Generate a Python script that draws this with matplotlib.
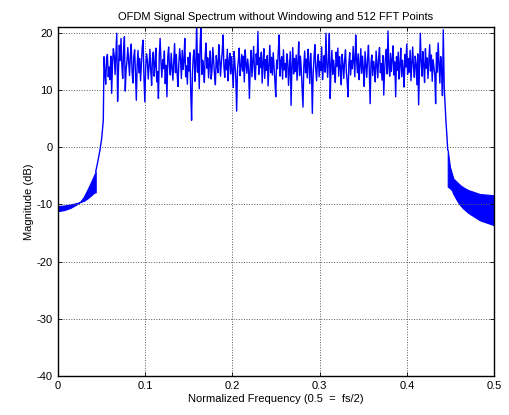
# OFDM spectrum without windowing - MATLAB style plot
import numpy as np
import matplotlib
matplotlib.use("Agg")
import matplotlib.pyplot as plt

plt.rcParams['font.family'] = ['Liberation Sans', 'DejaVu Sans']

# in-band magnitudes (dB)
f_band_start = 0.0532
f_band_stop = 0.4414
band_db = [
    15.8, 13.1, 11.0, 15.4, 16.2, 12.3, 14.0, 11.8, 15.9, 9.4, 14.6, 17.2, 16.0, 12.7, 16.5, 19.9, 8.0, 13.4, 17.8, 15.1,
    19.0, 14.2, 12.0, 16.7, 19.3, 9.8, 13.6, 15.0, 17.4, 14.8, 12.5, 16.1, 18.0, 13.3, 11.2, 15.7, 17.0, 12.9, 8.2, 14.4,
    16.9, 13.0, 15.5, 11.6, 14.7, 17.6, 18.7, 12.1, 7.9, 13.8, 16.3, 15.2, 11.9, 14.1, 17.1, 13.5, 10.8, 15.6, 16.6, 12.4,
    14.5, 17.3, 11.4, 13.2, 8.5, 16.0, 19.0, 14.9, 12.2, 15.3, 13.7, 16.8, 11.1, 14.3, 8.8, 15.8, 17.5, 13.9, 12.6, 16.4,
    14.0, 11.7, 15.1, 18.1, 13.0, 16.2, 12.8, 10.6, 14.6, 17.2, 15.4, 12.0, 16.9, 13.6, 15.0, 19.0, 12.3, 14.2, 11.0, 15.7,
    13.3, 16.5, 9.6, 4.7, 12.9, 15.9, 17.0, 11.5, 14.4, 21.5, 13.1, 16.3, 10.2, 17.7, 21.5, 12.7, 15.2, 14.0, 11.3, 16.1,
    18.2, 13.8, 15.6, 12.1, 14.7, 16.8, 11.9, 13.4, 17.4, 15.0, 12.6, 10.9, 16.0, 14.3, 13.0, 17.9, 15.5, 12.4, 14.8, 16.6,
    19.6, 14.1, 12.2, 15.3, 13.5, 17.1, 11.6, 14.9, 16.4, 12.8, 15.8, 13.2, 10.4, 16.7, 14.5, 12.0, 6.3, 13.7, 15.1, 17.3,
    12.5, 14.0, 16.2, 13.3, 15.9, 11.4, 17.0, 14.6, 12.9, 15.4, 13.6, 8.5, 14.2, 16.9, 12.3, 15.0, 17.6, 13.1, 11.8, 16.3,
    14.4, 20.2, 12.7, 15.6, 13.9, 16.6, 11.2, 14.8, 17.2, 12.0, 15.3, 13.4, 16.0, 10.7, 14.3, 17.8, 13.0, 15.7, 12.6, 16.5,
    14.1, 11.5, 8.8, 15.2, 13.7, 16.9, 19.6, 12.4, 14.9, 15.8, 11.9, 17.0, 13.5, 14.6, 12.2, 16.3, 15.1, 10.8, 13.8, 16.7,
    7.3, 14.0, 17.4, 12.8, 15.5, 13.2, 16.1, 11.7, 14.7, 18.4, 12.5, 15.9, 13.6, 10.3, 7.0, 14.2, 16.8, 13.0, 15.4, 12.1,
    17.1, 14.5, 11.1, 16.4, 13.3, 5.9, 12.9, 15.7, 17.9, 13.8, 11.6, 14.8, 16.2, 12.3, 15.0, 13.4, 17.5, 11.8, 14.3, 16.0,
    13.1, 19.9, 14.6, 12.2, 15.6, 19.9, 8.5, 14.0, 16.9, 12.7, 15.2, 13.5, 11.3, 16.6, 14.1, 17.3, 12.4, 15.8, 13.9, 10.9,
    16.2, 14.4, 12.0, 15.3, 17.0, 13.2, 11.5, 8.8, 14.7, 16.5, 12.6, 15.1, 13.7, 17.6, 14.9, 12.3, 19.6, 15.5, 13.0, 16.3,
    11.8, 14.2, 17.2, 12.9, 15.9, 13.6, 10.6, 16.7, 14.5, 12.2, 15.4, 17.8, 13.3, 7.6, 14.8, 16.1, 12.5, 15.0, 13.8, 11.4,
    16.8, 14.3, 12.1, 15.7, 17.4, 13.0, 14.6, 11.7, 16.0, 9.1, 13.5, 15.6, 17.1, 12.8, 20.3, 14.1, 12.4, 16.4, 13.2, 15.3,
    17.7, 12.6, 14.9, 8.8, 15.8, 13.4, 16.6, 11.9, 14.4, 17.3, 12.3, 15.2, 13.7, 10.5, 16.2, 14.0, 18.0, 12.7, 15.5, 13.1,
    16.9, 11.6, 14.7, 17.5, 13.9, 12.2, 15.9, 14.5, 10.9, 16.3, 7.4, 13.6, 19.9, 15.0, 12.4, 16.7, 14.2, 11.3, 17.2, 13.8,
    15.6, 12.0, 14.8, 17.9, 13.3, 16.1, 11.5, 15.3, 14.0, 12.7, 7.6, 16.5, 13.1, 18.2, 14.6, 11.2, 15.8, 13.5, 9.0, 20.5,
]

# left skirt (dense ripple shown as a band between envelopes)
left_f = [0, 0.008, 0.015, 0.021, 0.0257, 0.030, 0.034, 0.038, 0.0415, 0.0437]
left_upper = [-10.3, -10.2, -10.0, -9.8, -9.6, -8.7, -7.5, -6.2, -5.0, -4.3]
left_lower = [-11.2, -11.0, -10.6, -10.1, -9.6, -9.4, -9.0, -8.5, -8.0, -7.9]

# rising and falling band edges
rise_f = [0.0437, 0.046, 0.0486, 0.0506, 0.0524]
rise_db = [-4.3, -2.6, -0.5, 1.6, 4.7]
fall_f = [0.4425, 0.4445, 0.4455, 0.4465]
fall_db = [10.3, 4.4, 2.1, -0.5]

# right skirt
right_f = [0.4465, 0.449, 0.451, 0.453, 0.457, 0.4605, 0.464, 0.470, 0.4834, 0.4986, 0.5]
right_upper = [-0.5, -3.4, -4.5, -5.5, -6.1, -6.6, -7.0, -7.5, -8.2, -8.4, -8.4]
right_lower = [-6.9, -7.2, -7.5, -8.2, -9.3, -10.1, -10.7, -11.5, -12.8, -13.6, -13.7]

xticks = [0, 0.1, 0.2, 0.3, 0.4, 0.5]
xtick_labels = ['0', '0.1', '0.2', '0.3', '0.4', '0.5']
yticks = [-40, -30, -20, -10, 0, 10, 20]
ytick_labels = ['-40', '-30', '-20', '-10', '0', '10', '20']

blue = '#0000ff'

fig = plt.figure(figsize=(5.09, 4.15), dpi=100)
ax = fig.add_axes([0.113, 0.094, 0.8585, 0.841])

band_f = np.linspace(f_band_start, f_band_stop, len(band_db))
line_f = np.concatenate([rise_f, band_f, fall_f])
line_db = np.concatenate([rise_db, band_db, fall_db])

ax.fill_between(left_f, left_lower, left_upper, color=blue, lw=0.8, edgecolor=blue)
ax.fill_between(right_f, right_lower, right_upper, color=blue, lw=0.8, edgecolor=blue)
ax.plot(line_f, line_db, color=blue, lw=1.0)

ax.set_xlim(0, 0.5)
ax.set_ylim(-40, 21)
ax.set_xticks(xticks)
ax.set_xticklabels(xtick_labels)
ax.set_yticks(yticks)
ax.set_yticklabels(ytick_labels)
ax.tick_params(direction='in', top=True, right=True, labelsize=8, length=3, width=0.6)
ax.grid(True, color='0.35', linestyle=':', linewidth=0.7)
for s in ax.spines.values():
    s.set_linewidth(1.0)

ax.set_title('OFDM Signal Spectrum without Windowing and 512 FFT Points', fontsize=8, pad=5)
ax.set_xlabel('Normalized Frequency (0.5  =  fs/2)', fontsize=8, labelpad=2)
ax.set_ylabel('Magnitude (dB)', fontsize=8, labelpad=2)

fig.savefig('out.png', dpi=100)
